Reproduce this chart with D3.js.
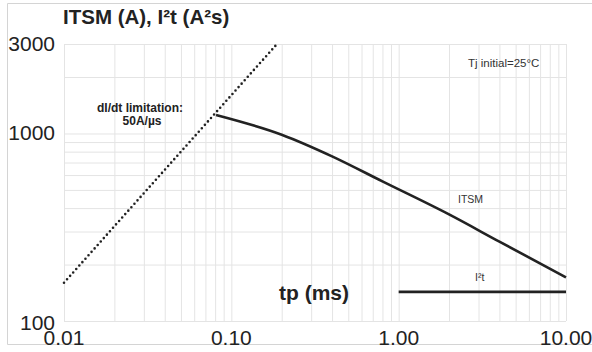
<!DOCTYPE html>
<html>
<head>
<meta charset="utf-8">
<script src="https://cdn.jsdelivr.net/npm/d3@7"></script>
<style>
  body { margin: 0; background: #fff; }
  svg { display: block; font-family: "Liberation Sans", Arial, sans-serif; }
</style>
</head>
<body>
<div id="chart"></div>
<script>
var W = 592, H = 352;

// data
var itsmT = [0.081, 0.2, 0.4, 0.8, 2, 4, 10];       // tp (ms)
var itsmA = [1255, 985, 755, 555, 370, 265, 171];   // ITSM (A)
var i2tT = [1, 10];
var i2tV = [143, 143];
var limitT = [0.01, 0.1875];                        // dI/dt limitation 50A/µs
var limitA = [160, 3000];
var xTicks = [0.01, 0.1, 1, 10];
var xTickLabels = ["0.01", "0.10", "1.00", "10.00"];
var yTicks = [100, 1000, 3000];

var margin = {top: 44, right: 26, bottom: 31, left: 64},
    width = W - margin.left - margin.right,
    height = H - margin.top - margin.bottom;

var svg = d3.select("#chart").append("svg")
  .attr("width", W).attr("height", H);

// outer frame
svg.append("path")
  .attr("d", "M" + (W + 2) + ",3.5H7.5V344.5H" + (W + 2))
  .attr("fill", "none").attr("stroke", "#d4d4d4").attr("stroke-width", 1);

var g = svg.append("g")
  .attr("transform", "translate(" + margin.left + "," + margin.top + ")");

var x = d3.scaleLog().domain([0.01, 10]).range([0, width]);
var y = d3.scaleLog().domain([100, 3000]).range([height, 0]);

// grid
var xGrid = [];
[0.01, 0.1, 1].forEach(function(d) { for (var k = 1; k <= 9; k++) xGrid.push(d * k); });
xGrid.push(10);
var yGrid = [];
[100, 1000].forEach(function(d) { for (var k = 1; k <= 9; k++) if (d * k <= 3000) yGrid.push(d * k); });

g.append("g")
  .attr("transform", "translate(0," + height + ")")
  .call(d3.axisBottom(x).tickValues(xGrid).tickSize(-height).tickFormat(""))
  .call(function(a) { a.select(".domain").remove(); a.selectAll("line").attr("stroke", "#e4e4e4"); });

g.append("g")
  .call(d3.axisLeft(y).tickValues(yGrid).tickSize(-width).tickFormat(""))
  .call(function(a) { a.select(".domain").remove(); a.selectAll("line").attr("stroke", "#e4e4e4"); });

// tick labels
g.selectAll(".ylab").data(yTicks).enter().append("text")
  .attr("x", -9)
  .attr("y", function(d) { return y(d) + (d == 100 ? 9 : 7); })
  .attr("text-anchor", "end")
  .attr("font-size", 21)
  .attr("fill", "#222")
  .text(function(d) { return d; });

g.selectAll(".xlab").data(xTicks).enter().append("text")
  .attr("x", function(d) { return x(d); })
  .attr("y", height + 24)
  .attr("text-anchor", "middle")
  .attr("font-size", 21)
  .attr("fill", "#222")
  .text(function(d, i) { return xTickLabels[i]; });

var line = d3.line()
  .x(function(d) { return x(d[0]); })
  .y(function(d) { return y(d[1]); });

// dI/dt limitation (dotted)
g.append("path")
  .datum(d3.zip(limitT, limitA))
  .attr("d", line)
  .attr("fill", "none")
  .attr("stroke", "#222")
  .attr("stroke-width", 2.6)
  .attr("stroke-linecap", "round")
  .attr("stroke-dasharray", "0 4.6");

// ITSM curve
g.append("path")
  .datum(d3.zip(itsmT, itsmA))
  .attr("d", line.curve(d3.curveMonotoneX))
  .attr("fill", "none")
  .attr("stroke", "#222")
  .attr("stroke-width", 2.6);

// I²t
g.append("path")
  .datum(d3.zip(i2tT, i2tV))
  .attr("d", line.curve(d3.curveLinear))
  .attr("fill", "none")
  .attr("stroke", "#222")
  .attr("stroke-width", 2.6);

// texts
svg.append("text").attr("x", 63).attr("y", 24)
  .attr("font-size", 20.5).attr("font-weight", "bold").attr("fill", "#222")
  .text("ITSM (A), I²t (A²s)");

svg.append("text").attr("x", 279).attr("y", 300)
  .attr("font-size", 21).attr("font-weight", "bold").attr("fill", "#222")
  .text("tp (ms)");

svg.append("text").attr("x", 140).attr("y", 112)
  .attr("text-anchor", "middle")
  .attr("font-size", 12).attr("font-weight", "bold").attr("fill", "#222")
  .text("dI/dt limitation:");
svg.append("text").attr("x", 142).attr("y", 125)
  .attr("text-anchor", "middle")
  .attr("font-size", 12).attr("font-weight", "bold").attr("fill", "#222")
  .text("50A/µs");

svg.append("text").attr("x", 468).attr("y", 67)
  .attr("font-size", 11.5).attr("fill", "#333")
  .text("Tj initial=25°C");

svg.append("text").attr("x", 458).attr("y", 203)
  .attr("font-size", 10.5).attr("fill", "#333")
  .text("ITSM");

svg.append("text").attr("x", 475).attr("y", 281)
  .attr("font-size", 10.5).attr("fill", "#333")
  .text("I²t");
</script>
</body>
</html>
